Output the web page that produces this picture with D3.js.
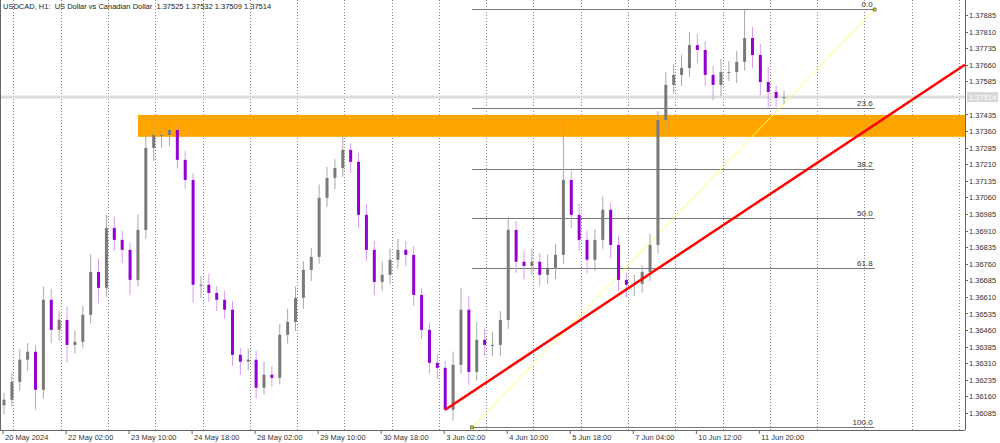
<!DOCTYPE html>
<html>
<head>
<meta charset="utf-8">
<script src="https://cdn.jsdelivr.net/npm/d3@7"></script>
<style>
  body { margin: 0; background: #fff; }
  svg { display: block; font-family: "Liberation Sans", Arial, sans-serif; }
</style>
</head>
<body>
<script>
// 4-hour candles (open = previous close)
let closes = [1.36145, 1.36226, 1.36326, 1.36362, 1.36190, 1.36597, 1.36461, 1.36506, 1.36393, 1.36407,
              1.36529, 1.36723, 1.36651, 1.36922, 1.36868, 1.36823, 1.36687, 1.36913, 1.37284, 1.37343,
              1.37343, 1.37365, 1.37230, 1.37139, 1.36665, 1.36665, 1.36628, 1.36597, 1.36552, 1.36348,
              1.36317, 1.36326, 1.36199, 1.36258, 1.36244, 1.36439, 1.36497, 1.36606, 1.36732, 1.36791,
              1.37058, 1.37148, 1.37193, 1.37275, 1.37221, 1.36981, 1.36823, 1.36678, 1.36710, 1.36778,
              1.36823, 1.36800, 1.36619, 1.36461, 1.36312, 1.36289, 1.36100, 1.36303, 1.36552, 1.36271,
              1.36416, 1.36393, 1.36393, 1.36506, 1.36913, 1.36769, 1.36750, 1.36769, 1.36710, 1.36741,
              1.36800, 1.37139, 1.36981, 1.36868, 1.36778, 1.36868, 1.37004, 1.36845, 1.36687, 1.36665,
              1.36669, 1.36723, 1.36845, 1.37410, 1.37569, 1.37614, 1.37645, 1.37749, 1.37727, 1.37614,
              1.37569, 1.37627, 1.37627, 1.37673, 1.37781, 1.37704, 1.37582, 1.37537, 1.37510, 1.37514];
// wick extensions beyond the body, in pips
let wickUp = [3, 4, 5, 4, 3, 6, 5, 4, 6, 5,
              4, 8, 6, 6, 5, 4, 3, 7, 6, 8,
              4, 6, 3, 4, 3, 4, 5, 3, 4, 4,
              3, 5, 4, 6, 4, 5, 6, 5, 4, 4,
              6, 5, 4, 6, 3, 4, 5, 4, 6, 5,
              5, 4, 4, 3, 3, 4, 3, 6, 10, 6,
              8, 5, 6, 4, 6, 4, 5, 6, 4, 6,
              5, 27, 4, 5, 4, 5, 6, 3, 4, 3,
              4, 3, 5, 4, 6, 5, 6, 6, 5, 4,
              4, 6, 5, 5, 13, 5, 5, 7, 3, 3];
let wickDn = [4, 3, 4, 5, 9, 4, 6, 5, 8, 4,
              3, 4, 7, 4, 5, 6, 7, 3, 4, 6,
              6, 5, 4, 4, 8, 6, 4, 5, 4, 5,
              6, 4, 5, 3, 4, 3, 4, 4, 5, 5,
              3, 4, 5, 4, 5, 6, 5, 6, 4, 4,
              4, 5, 5, 4, 5, 5, 1, 5, 4, 6,
              4, 5, 5, 5, 4, 5, 6, 4, 5, 4,
              5, 4, 6, 5, 6, 5, 4, 6, 5, 6,
              5, 4, 4, 4, 5, 4, 5, 4, 6, 5,
              7, 5, 4, 5, 4, 6, 6, 7, 4, 3];

let priceTicks = [1.36085, 1.36160, 1.36235, 1.36310, 1.36385, 1.36460, 1.36535, 1.36610, 1.36685,
                  1.36760, 1.36835, 1.36910, 1.36985, 1.37060, 1.37135, 1.37210, 1.37285, 1.37360,
                  1.37435, 1.37585, 1.37660, 1.37735, 1.37810, 1.37885];
let timeLabels = ["20 May 2024", "22 May 02:00", "23 May 10:00", "24 May 18:00", "28 May 02:00",
                  "29 May 10:00", "30 May 18:00", "3 Jun 02:00", "4 Jun 10:00", "5 Jun 18:00",
                  "7 Jun 04:00", "10 Jun 12:00", "11 Jun 20:00"];
let fibLevels = [0, 23.6, 38.2, 50, 61.8, 100];
let fibHigh = 1.37910, fibLow = 1.36020;
let zone = [1.37334, 1.37433];
let currentPrice = 1.37514;

let W = 1000, H = 443;
let plotRight = 965, plotBottom = 430;

let x = d3.scaleLinear().domain([0, closes.length - 1]).range([4, 784]);
let y = d3.scaleLinear().domain([1.36085, 1.37885]).range([413, 15]);

let svg = d3.select('body').append('svg').attr('width', W).attr('height', H);

// vertical dotted grid, every 6 candles
let gridIdx = d3.range(1.2, 125, 6);
svg.append('g').selectAll('line').data(gridIdx).join('line')
    .attr('x1', d => Math.round(x(d)) + 0.5).attr('x2', d => Math.round(x(d)) + 0.5)
    .attr('y1', 0).attr('y2', plotBottom)
    .attr('stroke', '#888').attr('stroke-width', 1).attr('stroke-dasharray', '1,2');

// current price line
svg.append('line')
    .attr('x1', 0).attr('x2', plotRight)
    .attr('y1', y(currentPrice)).attr('y2', y(currentPrice))
    .attr('stroke', '#ddd').attr('stroke-width', 3);

// orange zone
svg.append('rect')
    .attr('x', x(17.0)).attr('width', plotRight - x(17.0))
    .attr('y', y(zone[1])).attr('height', y(zone[0]) - y(zone[1]))
    .attr('fill', '#ffa500');

// fibonacci
let fibX1 = x(59.4), fibX2 = x(110.5);
let fib = svg.append('g');
fib.selectAll('line').data(fibLevels).join('line')
    .attr('x1', fibX1).attr('x2', fibX2)
    .attr('y1', d => Math.round(y(fibHigh - (fibHigh - fibLow) * d / 100)) + 0.5)
    .attr('y2', d => Math.round(y(fibHigh - (fibHigh - fibLow) * d / 100)) + 0.5)
    .attr('stroke', '#777').attr('stroke-width', 1);
fib.selectAll('text').data(fibLevels).join('text')
    .attr('x', fibX2 - 2)
    .attr('y', d => y(fibHigh - (fibHigh - fibLow) * d / 100) - 2)
    .attr('text-anchor', 'end').attr('font-size', 8).attr('fill', '#333')
    .text(d => d.toFixed(1));
svg.append('line')
    .attr('x1', fibX1).attr('y1', y(fibLow))
    .attr('x2', fibX2).attr('y2', y(fibHigh))
    .attr('stroke', '#ffff66').attr('stroke-width', 1);
svg.selectAll('rect.pt').data([[fibX1, y(fibLow)], [fibX2, y(fibHigh)]]).join('rect')
    .attr('class', 'pt').attr('x', d => d[0] - 1.5).attr('y', d => d[1] - 1.5)
    .attr('width', 3).attr('height', 3).attr('fill', '#cc0').attr('stroke', '#333').attr('stroke-width', 0.5);

// candles
let candles = closes.map((c, i) => {
    let o = i === 0 ? 1.36120 : closes[i - 1];
    return { i, o, c, h: Math.max(o, c) + wickUp[i] * 0.0001, l: Math.min(o, c) - wickDn[i] * 0.0001 };
});
let g = svg.append('g');
g.selectAll('line').data(candles).join('line')
    .attr('x1', d => x(d.i)).attr('x2', d => x(d.i))
    .attr('y1', d => y(d.h)).attr('y2', d => y(d.l))
    .attr('stroke', d => d.c >= d.o ? '#a8a8a8' : '#d49cf0').attr('stroke-width', 1);
g.selectAll('rect').data(candles).join('rect')
    .attr('x', d => x(d.i) - 1.5).attr('width', 3)
    .attr('y', d => y(Math.max(d.o, d.c)))
    .attr('height', d => Math.max(1, Math.abs(y(d.o) - y(d.c))))
    .attr('fill', d => d.c >= d.o ? '#7a7a7a' : '#9400d3');

// red trend line
let trend = [[56, 1.36100], [121.96, 1.37660]];
svg.append('line')
    .attr('x1', x(trend[0][0])).attr('y1', y(trend[0][1]))
    .attr('x2', x(trend[1][0])).attr('y2', y(trend[1][1]))
    .attr('stroke', '#ff0000').attr('stroke-width', 2.5);

// axes frame
svg.append('line').attr('x1', plotRight + 0.5).attr('x2', plotRight + 0.5).attr('y1', 0).attr('y2', plotBottom)
    .attr('stroke', '#666');
svg.append('line').attr('x1', 0).attr('x2', plotRight).attr('y1', plotBottom + 0.5).attr('y2', plotBottom + 0.5)
    .attr('stroke', '#666');
svg.append('line').attr('x1', 0.5).attr('x2', 0.5).attr('y1', 0).attr('y2', plotBottom).attr('stroke', '#666');

let yAxis = svg.append('g');
yAxis.selectAll('line').data(priceTicks).join('line')
    .attr('x1', plotRight).attr('x2', plotRight + 3)
    .attr('y1', d => Math.round(y(d)) + 0.5).attr('y2', d => Math.round(y(d)) + 0.5).attr('stroke', '#666');
yAxis.selectAll('text').data(priceTicks).join('text')
    .attr('x', plotRight + 4).attr('y', d => y(d) + 3)
    .attr('font-size', 7.5).attr('fill', '#333').text(d => d.toFixed(5));
svg.append('rect').attr('x', plotRight + 2).attr('y', y(currentPrice) - 5).attr('width', 31).attr('height', 10)
    .attr('fill', '#d8d8d8');
svg.append('text').attr('x', plotRight + 4).attr('y', y(currentPrice) + 3)
    .attr('font-size', 7.5).attr('fill', '#fff').text(currentPrice.toFixed(5));

let xAxis = svg.append('g');
xAxis.selectAll('line').data(timeLabels).join('line')
    .attr('x1', (d, k) => x(k * 8) - 1).attr('x2', (d, k) => x(k * 8) - 1)
    .attr('y1', plotBottom).attr('y2', plotBottom + 4).attr('stroke', '#666');
xAxis.selectAll('text').data(timeLabels).join('text')
    .attr('x', (d, k) => x(k * 8) + 1).attr('y', plotBottom + 10)
    .attr('font-size', 7.5).attr('fill', '#333').text(d => d);

svg.append('text').attr('x', 3).attr('y', 9).attr('font-size', 7.5).attr('fill', '#222')
    .attr('xml:space', 'preserve')
    .text('USDCAD, H1:  US Dollar vs Canadian Dollar  1.37525 1.37532 1.37509 1.37514');
</script>
</body>
</html>
